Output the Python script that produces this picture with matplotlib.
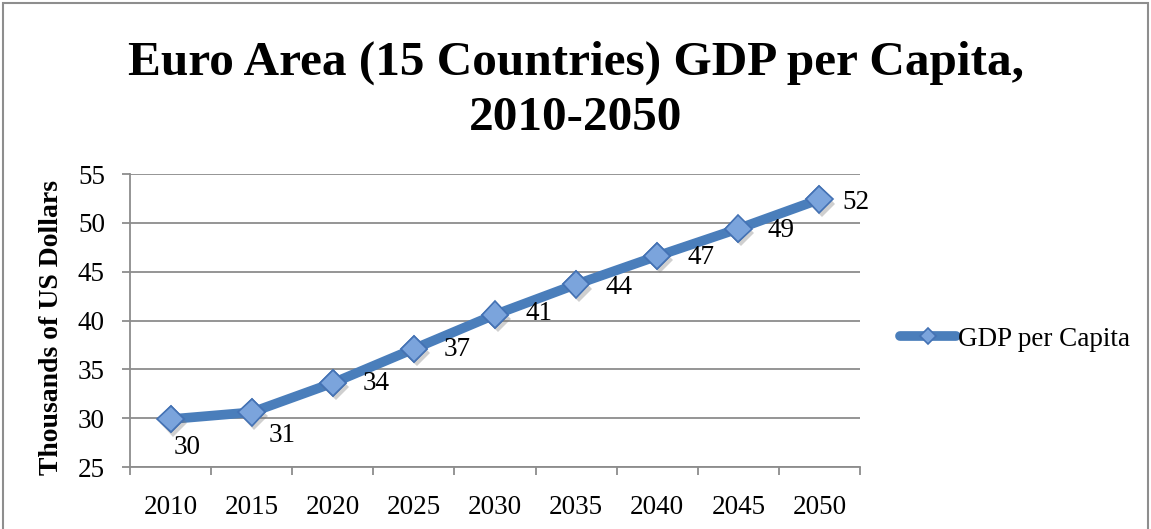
import matplotlib.pyplot as plt
import matplotlib.patheffects as pe
from matplotlib.patches import Rectangle

# GDP per capita, thousands of US dollars
years = ["2010", "2015", "2020", "2025", "2030", "2035", "2040", "2045", "2050"]
gdp_per_capita = [29.9, 30.6, 33.6, 37.1, 40.6, 43.7, 46.6, 49.4, 52.4]
y_ticks = [25, 30, 35, 40, 45, 50, 55]

# label offsets (pixels) relative to each point
label_offsets = [(17, -28), (30, -23), (43, 0), (43, -1), (44, 1),
                 (43, -3), (44, -1), (43, -2), (36, -3)]

FONT = "Liberation Serif"
LINE = "#4A7EBB"
GRID = "#8C8C8C"
FS = 19.5

plt.rcParams["font.family"] = FONT

fig = plt.figure(figsize=(11.51, 5.29), dpi=100)
ax = fig.add_axes([130 / 1151, 62 / 529, 730 / 1151, 293 / 529])

x = list(range(len(years)))
ax.plot(x, gdp_per_capita, color=LINE, lw=7, solid_capstyle="round",
        solid_joinstyle="round", zorder=3, label="GDP per Capita",
        marker="D", markersize=13.5, markerfacecolor="#7BA4DC",
        markeredgecolor="#4472B4", markeredgewidth=1.2)
# shadowed markers on top of the line
ax.plot(x, gdp_per_capita, ls="none", marker="D", markersize=13.5,
        markerfacecolor="#7BA4DC", markeredgecolor="#4472B4",
        markeredgewidth=1.2, zorder=4,
        path_effects=[pe.SimplePatchShadow(offset=(2, -3), shadow_rgbFace="#777777", alpha=0.35),
                      pe.Normal()])

for xi, v, (dx, dy) in zip(x, gdp_per_capita, label_offsets):
    ax.annotate(f"{v:.0f}", (xi, v), xytext=(dx, dy), textcoords="offset pixels",
                ha="center", va="center", fontsize=FS, color="black", zorder=5)

ax.set_xlim(-0.5, len(years) - 0.5)
ax.set_ylim(25, 55)
ax.set_yticks(y_ticks)
ax.set_xticks(x)
ax.set_xticklabels(years)
ax.set_xticks([i - 0.5 for i in range(len(years) + 1)], minor=True)

ax.grid(True, axis="y", color=GRID, lw=1.3)
ax.set_axisbelow(True)
for side in ["top", "right"]:
    ax.spines[side].set_visible(False)
for side in ["left", "bottom"]:
    ax.spines[side].set_color(GRID)
    ax.spines[side].set_linewidth(1.3)

ax.tick_params(axis="y", length=6, width=1.3, color=GRID, pad=12, labelsize=FS)
ax.tick_params(axis="x", which="major", length=0, pad=20, labelsize=FS)
ax.tick_params(axis="x", which="minor", length=6, width=1.3, color=GRID)

ax.set_ylabel("Thousands of US Dollars", fontsize=20, fontweight="bold")
ax.yaxis.set_label_coords(-0.09, 0.475)

# two-line title, placed by baseline
fig.text(0.5, 1 - 75 / 529, "Euro Area (15 Countries) GDP per Capita,",
         ha="center", va="baseline", fontsize=35.5, fontweight="bold")
fig.text(0.5, 1 - 130 / 529, "2010-2050",
         ha="center", va="baseline", fontsize=35.5, fontweight="bold")

ax.legend(loc="center left", bbox_to_anchor=(886 / 1151, 1 - 339 / 529),
          bbox_transform=fig.transFigure, frameon=False, fontsize=FS,
          handlelength=2.1, handletextpad=0.05, borderpad=0, markerscale=0.6)

# outer chart border
fig.patches.append(Rectangle((3 / 1151, -0.05), 1145 / 1151, 1.05 - 3 / 529,
                             transform=fig.transFigure, fill=False,
                             edgecolor="#8E8E8E", lw=1.5))

fig.savefig("out.png", dpi=100)
